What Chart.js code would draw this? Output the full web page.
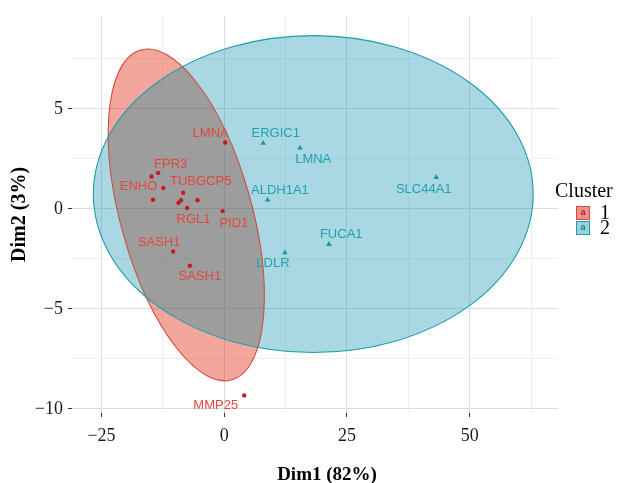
<!DOCTYPE html>
<html><head><meta charset="utf-8">
<script src="https://cdn.jsdelivr.net/npm/chart.js@4.4.1/dist/chart.umd.min.js"></script>
<style>html,body{margin:0;padding:0;background:#fff;}canvas{display:block;}</style>
</head><body>
<canvas id="c" width="618" height="483"></canvas>
<script>
// ---- data ----
const cluster1Names = ['LMNA','FPR3','ENHO','','','TUBGCP5','','','','RGL1','PID1','SASH1','SASH1','MMP25'];
const cluster1X = [0.2, -13.45, -14.8, -12.4, -14.5, -8.35, -5.42, -8.8, -9.3, -7.54, -0.33, -10.4, -7.0, 4.08];
const cluster1Y = [3.32, 1.80, 1.62, 1.04, 0.46, 0.81, 0.43, 0.43, 0.31, 0.05, -0.11, -2.13, -2.84, -9.32];
const cluster2Names = ['ERGIC1','LMNA','ALDH1A1','SLC44A1','FUCA1','LDLR'];
const cluster2X = [7.95, 15.43, 8.84, 43.2, 21.34, 12.37];
const cluster2Y = [3.28, 3.05, 0.45, 1.58, -1.77, -2.19];
// concentration ellipses (data units)
const ellipseCenterX = [-7.72, 18.15];
const ellipseCenterY = [-0.30, 0.74];
const ellipseSemiA = [16.53, 44.8];
const ellipseSemiB = [6.94, 7.92];
const ellipseAngleDeg = [-17.6, 0];
const clusterLabels = ['1','2'];
const xTickValues = [-25, 0, 25, 50];
const xTickLabels = ['\u221225', '0', '25', '50'];
const xMinorValues = [-12.5, 12.5, 37.5, 62.5];
const yTickValues = [-10, -5, 0, 5];
const yTickLabels = ['\u221210', '\u22125', '0', '5'];
const yMinorValues = [-7.5, -2.5, 2.5, 7.5];

// ---- label nudges (pixels, layout only) ----
const nudge1 = [[-14.5,-9.2],[12.5,-8.7],[-13,10],null,null,[17.5,-11.2],null,null,null,[6.4,11.5],[11.3,12.4],[-14.1,-9.5],[10,10.9],[-28.5,9.7]];
const nudge2 = [[12.5,-9.9],[13.3,11.9],[12.3,-9],[-12.5,11.7],[12.3,-9.9],[-12,11.2]];

const RED_FILL = 'rgba(226,48,26,0.43)';
const BLUE_FILL = 'rgba(43,158,183,0.40)';
const GRAY_FILL = 'rgba(80,80,80,0.56)';
const RED_EDGE = '#cf4a3f';
const BLUE_EDGE = '#1a9ea9';

function ellipsePath(ctx, chart, i) {
  const xs = chart.scales.x, ys = chart.scales.y;
  const cx = xs.getPixelForValue(ellipseCenterX[i]);
  const cy = ys.getPixelForValue(ellipseCenterY[i]);
  const sx = xs.getPixelForValue(1) - xs.getPixelForValue(0);
  const sy = ys.getPixelForValue(0) - ys.getPixelForValue(1);
  ctx.save();
  ctx.translate(cx, cy);
  ctx.scale(sx, -sy);
  ctx.rotate(ellipseAngleDeg[i] * Math.PI / 180);
  ctx.moveTo(ellipseSemiA[i], 0);
  ctx.ellipse(0, 0, ellipseSemiA[i], ellipseSemiB[i], 0, 0, Math.PI * 2);
  ctx.restore();
}

const ellipsePlugin = {
  id: 'ellipses',
  beforeDatasetsDraw(chart) {
    const ctx = chart.ctx, ca = chart.chartArea;
    ctx.save();
    ctx.beginPath(); ctx.rect(ca.left, ca.top, ca.width, ca.height); ctx.clip();
    // blue only
    ctx.save();
    ctx.beginPath(); ellipsePath(ctx, chart, 1); ctx.clip();
    ctx.beginPath(); ctx.rect(-2000, -2000, 5000, 5000); ellipsePath(ctx, chart, 0);
    ctx.fillStyle = BLUE_FILL; ctx.fill('evenodd');
    ctx.restore();
    // red only
    ctx.save();
    ctx.beginPath(); ellipsePath(ctx, chart, 0); ctx.clip();
    ctx.beginPath(); ctx.rect(-2000, -2000, 5000, 5000); ellipsePath(ctx, chart, 1);
    ctx.fillStyle = RED_FILL; ctx.fill('evenodd');
    ctx.restore();
    // overlap
    ctx.save();
    ctx.beginPath(); ellipsePath(ctx, chart, 0); ctx.clip();
    ctx.beginPath(); ellipsePath(ctx, chart, 1); ctx.clip();
    ctx.fillStyle = GRAY_FILL; ctx.fillRect(ca.left, ca.top, ca.width, ca.height);
    ctx.restore();
    // edges
    ctx.lineWidth = 1.1;
    ctx.beginPath(); ellipsePath(ctx, chart, 0); ctx.strokeStyle = RED_EDGE; ctx.stroke();
    ctx.beginPath(); ellipsePath(ctx, chart, 1); ctx.strokeStyle = BLUE_EDGE; ctx.stroke();
    ctx.restore();
  },
  afterDatasetsDraw(chart) {
    const ctx = chart.ctx;
    ctx.save();
    ctx.font = '13px "Liberation Sans", Arial, sans-serif';
    ctx.textAlign = 'center'; ctx.textBaseline = 'middle';
    const sets = [[cluster1Names, nudge1, '#e4473c'], [cluster2Names, nudge2, '#1ea2b1']];
    sets.forEach(([names, nudges, col], di) => {
      const meta = chart.getDatasetMeta(di);
      ctx.fillStyle = col;
      meta.data.forEach((pt, i) => {
        if (!names[i] || !nudges[i]) return;
        ctx.fillText(names[i], pt.x + nudges[i][0], pt.y + nudges[i][1]);
      });
    });
    ctx.restore();
  },
  afterDraw(chart) {
    const ctx = chart.ctx, ca = chart.chartArea;
    ctx.save();
    // x axis title
    ctx.fillStyle = '#000';
    ctx.font = 'bold 19px "Liberation Serif", "Times New Roman", serif';
    ctx.textAlign = 'center'; ctx.textBaseline = 'alphabetic';
    ctx.fillText('Dim1 (82%)', (ca.left + ca.right) / 2 + 12, 480);
    // legend
    const lx = ca.right - 3;
    ctx.textAlign = 'left';
    ctx.font = '20px "Liberation Serif", "Times New Roman", serif';
    ctx.fillText('Cluster', lx, 197);
    const fills = ['rgba(240,145,135,1)', 'rgba(152,210,222,1)'];
    const edges = [RED_EDGE, BLUE_EDGE];
    const glyphs = ['#b0161c', '#127f8b'];
    clusterLabels.forEach((lab, i) => {
      const bx = lx + 21, by = 206 + i * 15;
      ctx.fillStyle = fills[i]; ctx.fillRect(bx, by, 14, 14);
      ctx.strokeStyle = edges[i]; ctx.lineWidth = 1; ctx.strokeRect(bx + 0.5, by + 0.5, 13, 13);
      ctx.fillStyle = glyphs[i];
      ctx.font = 'bold 9px "Liberation Sans", Arial, sans-serif';
      ctx.textAlign = 'center'; ctx.textBaseline = 'middle';
      ctx.fillText('a', bx + 7, by + 7);
      ctx.fillStyle = '#000';
      ctx.font = '20px "Liberation Serif", "Times New Roman", serif';
      ctx.textAlign = 'left'; ctx.textBaseline = 'alphabetic';
      ctx.fillText(lab, bx + 24, by + 13);
    });
    ctx.restore();
  }
};

function tickSetter(major, minor) {
  return (scale) => {
    scale.ticks = major.concat(minor).sort((a, b) => a - b).map(v => ({ value: v }));
  };
}
function isMajor(list, v) { return list.indexOf(v) >= 0; }

new Chart(document.getElementById('c'), {
  type: 'scatter',
  data: {
    datasets: [
      { label: clusterLabels[0], data: cluster1X.map((x, i) => ({ x, y: cluster1Y[i] })),
        pointStyle: 'circle', pointRadius: 2.2, backgroundColor: '#c41a20', borderColor: '#c41a20', borderWidth: 0 },
      { label: clusterLabels[1], data: cluster2X.map((x, i) => ({ x, y: cluster2Y[i] })),
        pointStyle: 'triangle', pointRadius: 3.2, backgroundColor: '#139aa6', borderColor: '#139aa6', borderWidth: 0 }
    ]
  },
  options: {
    responsive: false, animation: false, devicePixelRatio: 1,
    layout: { padding: { top: 12, right: 60, left: 0, bottom: 0 } },
    plugins: { legend: { display: false }, tooltip: { enabled: false } },
    scales: {
      x: {
        type: 'linear', min: -31, max: 68,
        afterBuildTicks: tickSetter(xTickValues, xMinorValues),
        afterFit: (s) => { s.height = 70; },
        border: { display: false },
        grid: {
          color: (c) => isMajor(xTickValues, c.tick.value) ? '#dcdcdc' : '#ebebeb',
          lineWidth: (c) => isMajor(xTickValues, c.tick.value) ? 1 : 0.8,
          tickColor: (c) => isMajor(xTickValues, c.tick.value) ? '#333' : 'rgba(0,0,0,0)',
          tickLength: 4, drawTicks: true
        },
        ticks: {
          autoSkip: false, maxRotation: 0, padding: 8, color: '#1a1a1a',
          font: { family: '"Liberation Serif", "Times New Roman", serif', size: 18 },
          callback: (v) => { const k = xTickValues.indexOf(v); return k >= 0 ? xTickLabels[k] : ''; }
        }
      },
      y: {
        type: 'linear', min: -10.2, max: 9.65,
        afterBuildTicks: tickSetter(yTickValues, yMinorValues),
        afterFit: (s) => { s.width = 72; },
        border: { display: false },
        grid: {
          color: (c) => isMajor(yTickValues, c.tick.value) ? '#dcdcdc' : '#ebebeb',
          lineWidth: (c) => isMajor(yTickValues, c.tick.value) ? 1 : 0.8,
          tickColor: (c) => isMajor(yTickValues, c.tick.value) ? '#333' : 'rgba(0,0,0,0)',
          tickLength: 4, drawTicks: true
        },
        ticks: {
          autoSkip: false, padding: 5, color: '#1a1a1a',
          font: { family: '"Liberation Serif", "Times New Roman", serif', size: 18 },
          callback: (v) => { const k = yTickValues.indexOf(v); return k >= 0 ? yTickLabels[k] : ''; }
        },
        title: {
          display: true, text: 'Dim2 (3%)', color: '#000',
          font: { family: '"Liberation Serif", "Times New Roman", serif', size: 20, weight: 'bold', lineHeight: 1 },
          padding: { top: 10, bottom: 0 }
        }
      }
    }
  },
  plugins: [ellipsePlugin]
});
</script>
</body></html>
